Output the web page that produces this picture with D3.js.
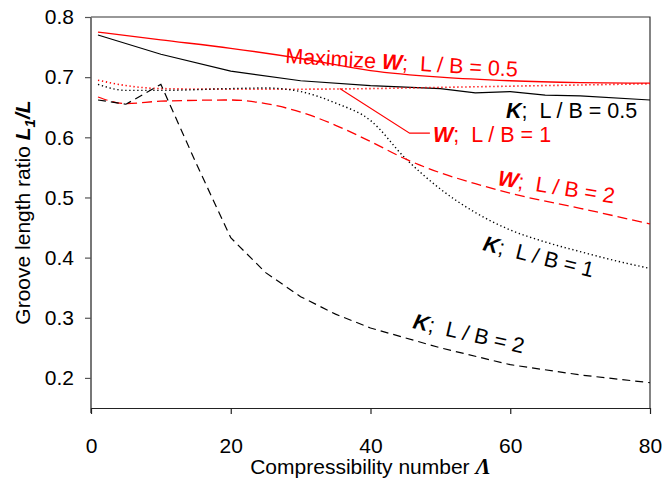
<!DOCTYPE html>
<html>
<head>
<meta charset="utf-8">
<script src="https://cdn.jsdelivr.net/npm/d3@7"></script>
<style>
  body { margin: 0; background: #fff; }
  svg text { font-family: "Liberation Sans", Arial, sans-serif; }
</style>
</head>
<body>
<svg id="chart" width="663" height="480"></svg>
<script>
const width = 663;
const height = 480;

// Data (Lambda vs L1/L)
const wHalfX = [1, 10, 20, 30, 40, 50, 60, 70, 80];
const wHalfY = [0.775, 0.762, 0.748, 0.731, 0.711, 0.700, 0.694, 0.691, 0.690];

const kHalfX = [1, 10, 20, 30, 40, 50, 55, 60, 65, 70, 80];
const kHalfY = [0.770, 0.738, 0.710, 0.694, 0.686, 0.681, 0.674, 0.676, 0.670, 0.669, 0.662];

const wOneX = [1, 5, 10, 20, 30, 40, 50, 60, 70, 80];
const wOneY = [0.695, 0.686, 0.681, 0.680, 0.680, 0.681, 0.683, 0.685, 0.687, 0.689];

const kOneX = [1, 5, 10, 20, 25, 30, 35, 40, 45, 50, 55, 60, 65, 70, 75, 80];
const kOneY = [0.688, 0.678, 0.678, 0.681, 0.682, 0.676, 0.657, 0.628, 0.565, 0.514, 0.475, 0.446, 0.426, 0.410, 0.395, 0.382];

const wTwoX = [1, 5, 10, 20, 25, 30, 35, 40, 45, 50, 55, 60, 70, 80];
const wTwoY = [0.667, 0.656, 0.660, 0.662, 0.656, 0.642, 0.620, 0.593, 0.564, 0.541, 0.523, 0.507, 0.482, 0.456];

const kTwoX = [1, 5, 10, 15, 20, 25, 30, 35, 40, 50, 60, 70, 80];
const kTwoY = [0.662, 0.655, 0.688, 0.558, 0.433, 0.375, 0.335, 0.306, 0.283, 0.250, 0.222, 0.205, 0.192];

// leader line for the "W; L/B = 1" label (data units)
const leaderX = [35.6, 45.6, 48.5];
const leaderY = [0.681, 0.607, 0.607];

const xTicks = [0, 20, 40, 60, 80];
const yTicks = [0.2, 0.3, 0.4, 0.5, 0.6, 0.7, 0.8];

const svg = d3.select("#chart");

const x = d3.scaleLinear().domain([0, 80]).range([91, 650]);
const y = d3.scaleLinear().domain([0.15, 0.8]).range([408, 17]);

// frame (top + right)
svg.append("path")
  .attr("d", `M${x(0)},${y(0.8)}H${x(80)}V${y(0.15)}`)
  .attr("fill", "none")
  .attr("stroke", "#333")
  .attr("stroke-width", 1.2);

// y axis
const yAxis = svg.append("g")
  .attr("transform", `translate(${x(0)},0)`)
  .call(d3.axisLeft(y).tickValues(yTicks).tickSize(6).tickSizeOuter(0).tickFormat(d3.format(".1f")));
yAxis.select(".domain").attr("stroke", "#777").attr("stroke-width", 2)
  .attr("d", `M0,${y(0.8)}V${y(0.15) + 5}`);
yAxis.selectAll(".tick line").attr("stroke", "#555").attr("stroke-width", 1.2);
yAxis.selectAll(".tick text")
  .attr("x", -17)
  .attr("font-size", 21)
  .attr("fill", "#000")
  .style("font-family", "'Liberation Sans', Arial, sans-serif");

// x axis
const xAxis = svg.append("g")
  .attr("transform", `translate(0,${y(0.15)})`)
  .call(d3.axisBottom(x).tickValues(xTicks).tickSize(6).tickSizeOuter(0));
xAxis.select(".domain").attr("stroke", "#222").attr("stroke-width", 1.2);
xAxis.selectAll(".tick line").attr("stroke", "#222").attr("stroke-width", 1.2);
xAxis.selectAll(".tick text")
  .attr("y", 30)
  .attr("font-size", 21)
  .attr("fill", "#000")
  .style("font-family", "'Liberation Sans', Arial, sans-serif");

// axis titles
const xt = svg.append("text")
  .attr("x", (x(0) + x(80)) / 2)
  .attr("y", 474)
  .attr("text-anchor", "middle")
  .attr("font-size", 21);
xt.append("tspan").text("Compressibility number ");
xt.append("tspan")
  .style("font-family", "'Liberation Serif', 'Times New Roman', serif")
  .attr("font-style", "italic").attr("font-weight", "bold").attr("font-size", 23)
  .text("Λ");

const yt = svg.append("text")
  .attr("transform", `translate(30,${(y(0.8) + y(0.15)) / 2 }) rotate(-90)`)
  .attr("text-anchor", "middle")
  .attr("font-size", 21);
yt.append("tspan").text("Groove length ratio ");
yt.append("tspan").attr("font-weight", "bold").attr("font-style", "italic").text("L");
yt.append("tspan").attr("font-weight", "bold").attr("font-style", "italic")
  .attr("font-size", 15).attr("dy", 5).text("1");
yt.append("tspan").attr("font-weight", "bold").attr("font-style", "italic")
  .attr("dy", -5).text("/L");

// curves
const smooth = d3.line().x(d => x(d[0])).y(d => y(d[1])).curve(d3.curveMonotoneX);
const line = d3.line().x(d => x(d[0])).y(d => y(d[1]));
const series = [
  { xs: wHalfX, ys: wHalfY, color: "#ff0000", dash: null, w: 1.3, gen: smooth },
  { xs: kHalfX, ys: kHalfY, color: "#000", dash: null, w: 1.2, gen: line },
  { xs: wOneX, ys: wOneY, color: "#ff0000", dash: "1.3,2.7", w: 1.6, gen: smooth },
  { xs: kOneX, ys: kOneY, color: "#000", dash: "1.3,2.7", w: 1.4, gen: smooth },
  { xs: wTwoX, ys: wTwoY, color: "#ff0000", dash: "10,5", w: 1.3, gen: smooth },
  { xs: kTwoX, ys: kTwoY, color: "#000", dash: "8,5", w: 1.2, gen: line }
];
series.forEach(s => {
  svg.append("path")
    .datum(d3.zip(s.xs, s.ys))
    .attr("d", s.gen)
    .attr("fill", "none")
    .attr("stroke", s.color)
    .attr("stroke-width", s.w)
    .attr("stroke-dasharray", s.dash);
});

svg.append("path")
  .datum(d3.zip(leaderX, leaderY))
  .attr("d", line)
  .attr("fill", "none")
  .attr("stroke", "#ff0000")
  .attr("stroke-width", 1.1);

// curve labels
const labels = [
  { pre: "Maximize ", sym: "W", rest: "L / B = 0.5", x: 285, y: 63, rot: 3.4, color: "#ff0000" },
  { pre: "", sym: "K", rest: "L / B = 0.5", x: 506, y: 118, rot: 0, color: "#000" },
  { pre: "", sym: "W", rest: "L / B = 1", x: 433, y: 142, rot: 0, color: "#ff0000" },
  { pre: "", sym: "W", rest: "L / B = 2", x: 497, y: 185, rot: 9, color: "#ff0000" },
  { pre: "", sym: "K", rest: "L / B = 1", x: 482, y: 250, rot: 14, color: "#000" },
  { pre: "", sym: "K", rest: "L / B = 2", x: 412, y: 328, rot: 13, color: "#000" }
];
labels.forEach(l => {
  const t = svg.append("text")
    .attr("transform", `translate(${l.x},${l.y}) rotate(${l.rot})`)
    .attr("font-size", 21.5)
    .attr("fill", l.color)
    .attr("xml:space", "preserve");
  if (l.pre) t.append("tspan").text(l.pre);
  t.append("tspan").attr("font-weight", "bold").attr("font-style", "italic").text(l.sym);
  t.append("tspan").text(";  " + l.rest);
});
</script>
</body>
</html>
